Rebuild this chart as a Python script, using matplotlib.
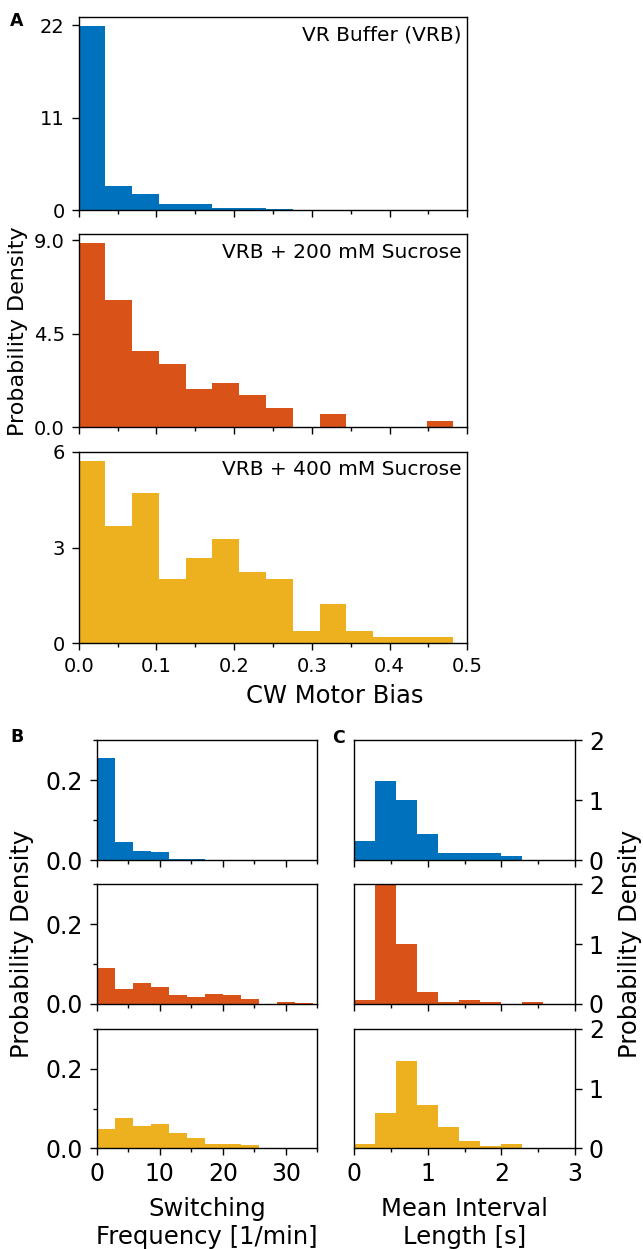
import numpy as np
import matplotlib
matplotlib.use("Agg")
import matplotlib.pyplot as plt
from matplotlib.ticker import MultipleLocator, FormatStrFormatter

# MATLAB-style colours for the three buffer conditions
colors = ["#0072BD", "#D95319", "#EDB120"]
conditions = ["VR Buffer (VRB)", "VRB + 200 mM Sucrose", "VRB + 400 mM Sucrose"]

# CW motor bias histograms (probability density)
bias_edges = np.linspace(0, 0.482, 15)
bias_vrb = [21.9, 2.91, 1.96, 0.72, 0.72, 0.20, 0.20, 0.16, 0, 0, 0, 0, 0, 0]
bias_200 = [8.84, 6.13, 3.65, 3.05, 1.85, 2.14, 1.53, 0.92, 0, 0.63, 0, 0, 0, 0.31]
bias_400 = [5.72, 3.67, 4.70, 2.03, 2.66, 3.26, 2.24, 2.03, 0.40, 1.22, 0.40, 0.20, 0.20, 0.20]
bias_yticks = [[0, 11, 22], [0, 4.5, 9.0], [0, 3, 6]]
bias_yticklabels = [["0", "11", "22"], ["0.0", "4.5", "9.0"], ["0", "3", "6"]]

# switching frequency histograms [1/min]
sw_edges = np.linspace(0, 34.3, 13)
sw_vrb = [0.255, 0.045, 0.023, 0.020, 0.002, 0.002, 0, 0, 0, 0, 0, 0]
sw_200 = [0.090, 0.038, 0.053, 0.042, 0.021, 0.016, 0.024, 0.021, 0.012, 0, 0.005, 0.001]
sw_400 = [0.048, 0.076, 0.057, 0.061, 0.038, 0.026, 0.012, 0.012, 0.008, 0, 0, 0]

# mean interval length histograms [s]
iv_edges = np.linspace(0, 2.571, 10)
iv_vrb = [0.31, 1.32, 1.00, 0.44, 0.12, 0.12, 0.12, 0.06, 0]
iv_200 = [0.07, 2.07, 1.00, 0.20, 0.03, 0.07, 0.03, 0, 0.03]
iv_400 = [0.07, 0.59, 1.46, 0.72, 0.35, 0.12, 0.04, 0.07, 0.01]

W, H = 643, 1249
A_FS = 14
BC_FS = 17
LABEL_FS = 17.5
plt.rcParams.update({
    "font.family": "DejaVu Sans",
    "font.size": A_FS,
    "axes.linewidth": 1.0,
    "xtick.major.width": 1.0,
    "ytick.major.width": 1.0,
    "xtick.minor.width": 1.0,
    "ytick.minor.width": 1.0,
})

fig = plt.figure(figsize=(W / 100, H / 100), dpi=100)


def box(left, top, right, bottom):
    """Add axes from pixel coordinates (origin at top-left)."""
    return fig.add_axes([left / W, 1 - bottom / H, (right - left) / W, (bottom - top) / H])


def draw(ax, edges, values, color):
    ax.stairs(values, edges, fill=True, color=color, linewidth=0)


# panel A: CW motor bias
a_left, a_right = 78.7, 467.3
a_rows = [(17, 210), (234.3, 427.3), (451.7, 643.3)]
for i, (vals, (t, b)) in enumerate(zip([bias_vrb, bias_200, bias_400], a_rows)):
    ax = box(a_left, t, a_right, b)
    draw(ax, bias_edges, vals, colors[i])
    ax.set_xlim(0, 0.5)
    ax.set_ylim(0, max(vals) * 1.05)
    ax.xaxis.set_major_locator(MultipleLocator(0.1))
    ax.xaxis.set_minor_locator(MultipleLocator(0.05))
    ax.xaxis.set_major_formatter(FormatStrFormatter("%.1f"))
    ax.set_yticks(bias_yticks[i])
    ax.set_yticklabels(bias_yticklabels[i])
    ax.tick_params(which="major", length=5, pad=5, labelsize=A_FS)
    ax.tick_params(which="minor", length=3)
    ax.text(0.985, 0.955, conditions[i], transform=ax.transAxes,
            ha="right", va="top", fontsize=14.5)
    if i < 2:
        ax.tick_params(axis="x", labelbottom=False)
    else:
        ax.set_xlabel("CW Motor Bias", fontsize=LABEL_FS)
        ax.xaxis.set_label_coords((335 - a_left) / (a_right - a_left),
                                  -(684 - b) / (b - t))
    if i == 1:
        ax.set_ylabel("Probability Density", fontsize=16, labelpad=4)

# panels B and C: switching frequency and mean interval length
bc_rows = [(740, 860), (884.3, 1003.7), (1029, 1148.3)]
for i, (t, b) in enumerate(bc_rows):
    axb = box(96.7, t, 317.3, b)
    draw(axb, sw_edges, [sw_vrb, sw_200, sw_400][i], colors[i])
    axb.set_xlim(0, 35)
    axb.set_ylim(0, 0.3)
    axb.xaxis.set_major_locator(MultipleLocator(10))
    axb.xaxis.set_minor_locator(MultipleLocator(5))
    axb.set_yticks([0, 0.2])
    axb.set_yticklabels(["0.0", "0.2"])
    axb.yaxis.set_minor_locator(MultipleLocator(0.1))

    axc = box(354.3, t, 575, b)
    draw(axc, iv_edges, [iv_vrb, iv_200, iv_400][i], colors[i])
    axc.set_xlim(0, 3)
    axc.set_ylim(0, 2)
    axc.xaxis.set_major_locator(MultipleLocator(1))
    axc.xaxis.set_minor_locator(MultipleLocator(0.5))
    axc.set_yticks([0, 1, 2])
    axc.yaxis.tick_right()
    axc.yaxis.set_label_position("right")

    for ax in (axb, axc):
        ax.tick_params(which="major", length=5, pad=5, labelsize=BC_FS)
        ax.tick_params(which="minor", length=3)

    if i < 2:
        axb.tick_params(axis="x", labelbottom=False)
        axc.tick_params(axis="x", labelbottom=False)
    else:
        axb.set_xlabel("Switching\nFrequency [1/min]", fontsize=LABEL_FS, labelpad=8)
        axc.set_xlabel("Mean Interval\nLength [s]", fontsize=LABEL_FS, labelpad=8)
    if i == 1:
        axb.set_ylabel("Probability Density", fontsize=LABEL_FS, labelpad=8)
        axc.set_ylabel("Probability Density", fontsize=LABEL_FS, labelpad=10)

# panel letters
fig.text(10 / W, 1 - 12 / H, "A", fontsize=12.5, fontweight="bold", va="top")
fig.text(10 / W, 1 - 728 / H, "B", fontsize=12.5, fontweight="bold", va="top")
fig.text(332 / W, 1 - 729 / H, "C", fontsize=12.5, fontweight="bold", va="top")

fig.savefig("out.png", dpi=100)
